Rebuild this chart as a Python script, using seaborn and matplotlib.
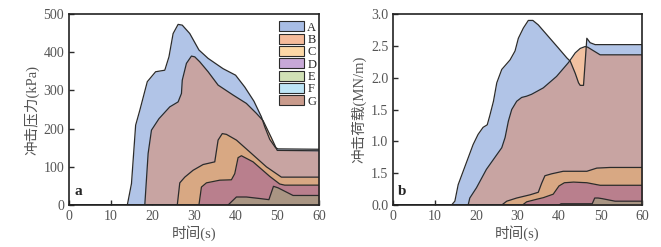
import numpy as np
import matplotlib
matplotlib.use('Agg')
import matplotlib.pyplot as plt
from matplotlib.patches import Patch
import seaborn as sns

# ---- panel a: impact pressure (kPa) ----
a_A_t = [0, 14.0, 15.0, 16.0, 17.0, 18.8, 20.8, 23.0, 24.0, 25.0, 26.2, 27.2, 29.0, 31.2,
         33.4, 37.0, 40.0, 42.2, 44.4, 46.2, 47.0, 48.2, 49.6, 50.2, 60]
a_A_v = [0, 0, 56, 209, 248, 323, 349, 353, 388, 449, 473, 471, 449, 406,
         384, 357, 340, 309, 272, 231, 205, 172, 150, 147, 146]
a_G_t = [0, 18.2, 19.0, 19.8, 21.6, 24.2, 26.2, 27.0, 27.2, 28.2, 29.4, 30.2, 31.4, 33.4,
         35.8, 39.4, 42.6, 45.0, 46.6, 47.4, 48.6, 50.0, 60]
a_G_v = [0, 0, 135, 196, 226, 257, 270, 292, 327, 371, 390, 388, 375, 349,
         314, 288, 266, 240, 221, 203, 176, 143, 142]
a_C_t = [0, 26.0, 26.6, 27.8, 29.8, 32.2, 35.0, 35.8, 36.8, 37.8, 40.2, 43.4, 47.4, 51.0, 60]
a_C_v = [0, 0, 58, 73, 91, 106, 113, 170, 187, 185, 170, 139, 100, 73, 73]
a_D_t = [0, 31.2, 31.8, 33.0, 36.2, 39.0, 39.8, 40.6, 41.4, 44.2, 48.2, 50.6, 51.8, 60]
a_D_v = [0, 0, 47, 58, 65, 66, 82, 124, 129, 113, 75, 55, 52, 52]
a_E_t = [0, 38.2, 40.2, 42.6, 45.8, 48.0, 49.1, 50.2, 53.8, 60]
a_E_v = [0, 0, 21, 21, 17, 14, 49, 45, 25, 25]

# ---- panel b: impact load (MN/m) ----
b_A_t = [0, 14.1, 14.9, 15.7, 16.9, 18.1, 19.3, 20.5, 21.7, 22.7, 23.3, 24.2, 25.0, 26.2,
         28.2, 29.4, 30.2, 31.4, 32.6, 33.7, 35.0, 37.0, 39.8, 41.9, 42.7, 43.9, 44.7,
         45.1, 45.9, 46.7, 47.5, 48.7, 60]
b_A_v = [0, 0, 0.06, 0.32, 0.53, 0.74, 0.95, 1.11, 1.22, 1.26, 1.40, 1.63, 1.92, 2.13,
         2.28, 2.42, 2.62, 2.78, 2.90, 2.90, 2.83, 2.68, 2.47, 2.31, 2.26, 2.07, 1.92,
         1.88, 1.88, 2.62, 2.55, 2.52, 2.52]
b_G_t = [0, 18.1, 18.5, 20.1, 22.5, 25.0, 26.2, 27.0, 27.8, 28.6, 29.8, 31.0, 32.2, 33.4,
         36.2, 39.4, 42.3, 43.9, 45.1, 46.3, 46.9, 49.9, 60]
b_G_v = [0, 0, 0.11, 0.27, 0.56, 0.79, 0.90, 1.06, 1.32, 1.50, 1.63, 1.69, 1.71, 1.74,
         1.84, 2.02, 2.24, 2.39, 2.46, 2.49, 2.48, 2.36, 2.36]
b_C_t = [0, 26.2, 27.4, 29.8, 33.0, 35.0, 35.8, 36.6, 38.2, 41.0, 44.3, 46.7, 49.1, 52.3, 60]
b_C_v = [0, 0, 0.06, 0.11, 0.16, 0.20, 0.34, 0.46, 0.49, 0.53, 0.53, 0.53, 0.58, 0.59, 0.59]
b_D_t = [0, 31.2, 32.2, 34.6, 36.2, 38.6, 40.0, 41.3, 43.5, 46.7, 49.9, 60]
b_D_v = [0, 0, 0.05, 0.09, 0.115, 0.17, 0.30, 0.35, 0.36, 0.35, 0.31, 0.31]
b_E_t = [0, 40.0, 40.5, 48.0, 48.6, 49.4, 50.4, 53.5, 60]
b_E_v = [0, 0, 0.02, 0.02, 0.11, 0.11, 0.10, 0.06, 0.06]

legend_names = ['A', 'B', 'C', 'D', 'E', 'F', 'G']
legend_colors = ['#a8bde5', '#f5bb9b', '#fcd8a6', '#c7a8d7', '#d1e1b6', '#bde5f6', '#c99b8c']

b_yticks = [0, 0.5, 1.0, 1.5, 2.0, 2.5, 3.0]
b_yticklabels = ['0.0', '1.5', '1.0', '1.5', '2.0', '2.5', '3.0']

# colours of the overlapping areas as they appear
COL_A = '#b1c4e7'
COL_G_ALONE = '#f2c1a1'
COL_G_OVER_A = '#c8a4a2'
COL_C = '#d8a883'
COL_D = '#b97f8d'
COL_E = '#a99583'
LINE = '#2b2b2b'
TXT = '#555555'

sns.set_style('ticks')
plt.rcParams['font.family'] = ['Liberation Serif', 'Noto Sans CJK SC']
plt.rcParams['axes.unicode_minus'] = False


def draw_panel(ax, A, G, layers):
    """Overlapping area plot: A and G blended, then the lower layers"""
    ax.fill_between(G[0], G[1], color=COL_G_ALONE, lw=0, zorder=1)
    pa = ax.fill_between(A[0], A[1], color=COL_A, lw=0, zorder=2)
    pg = ax.fill_between(G[0], G[1], color=COL_G_OVER_A, lw=0, zorder=3)
    pg.set_clip_path(pa.get_paths()[0], ax.transData)
    sns.lineplot(x=A[0], y=A[1], ax=ax, color=LINE, lw=0.9, estimator=None, sort=False, zorder=4)
    sns.lineplot(x=G[0], y=G[1], ax=ax, color=LINE, lw=0.9, estimator=None, sort=False, zorder=4)
    z = 5
    for t, v, c in layers:
        ax.fill_between(t, v, color=c, lw=0, zorder=z)
        sns.lineplot(x=t, y=v, ax=ax, color=LINE, lw=0.9, estimator=None, sort=False, zorder=z + 0.5)
        z += 1


def style_axes(ax):
    ax.set_xlim(0, 60)
    ax.set_xticks(range(0, 61, 10))
    ax.tick_params(direction='in', length=3.5, width=1, colors=LINE, labelcolor=TXT, labelsize=10)
    for s in ax.spines.values():
        s.set_visible(True)
        s.set_linewidth(1.2)
        s.set_color('#222222')
        s.set_zorder(20)
    ax.set_xlabel('时间(s)', fontsize=10.5, color=TXT, labelpad=2)


fig = plt.figure(figsize=(6.61, 2.47), dpi=100)
ax1 = fig.add_axes([0.1044, 0.170, 0.378, 0.773])
ax2 = fig.add_axes([0.5946, 0.170, 0.3767, 0.773])

draw_panel(ax1, (a_A_t, a_A_v), (a_G_t, a_G_v),
           [(a_C_t, a_C_v, COL_C), (a_D_t, a_D_v, COL_D), (a_E_t, a_E_v, COL_E)])
style_axes(ax1)
ax1.set_ylim(0, 500)
ax1.set_yticks(range(0, 501, 100))
ax1.set_ylabel('冲击压力(kPa)', fontsize=10.5, color=TXT, labelpad=3)
ax1.text(0.02, 0.05, 'a', transform=ax1.transAxes, fontsize=11, fontweight='bold', zorder=30)

handles = [Patch(facecolor=c, edgecolor=LINE, lw=0.8) for c in legend_colors]
ax1.legend(handles, legend_names, loc='upper right', bbox_to_anchor=(1.0, 0.975), frameon=False,
           fontsize=9, handlelength=2.0, handleheight=0.85, labelspacing=0.0,
           handletextpad=0.3, borderpad=0.2, borderaxespad=0)

draw_panel(ax2, (b_A_t, b_A_v), (b_G_t, b_G_v),
           [(b_C_t, b_C_v, COL_C), (b_D_t, b_D_v, COL_D), (b_E_t, b_E_v, COL_E)])
style_axes(ax2)
ax2.set_ylim(0, 3.0)
ax2.set_yticks(b_yticks)
ax2.set_yticklabels(b_yticklabels)
ax2.set_ylabel('冲击荷载(MN/m)', fontsize=10.5, color=TXT, labelpad=3)
ax2.text(0.02, 0.05, 'b', transform=ax2.transAxes, fontsize=11, fontweight='bold', zorder=30)

fig.savefig('out.png', dpi=100)
